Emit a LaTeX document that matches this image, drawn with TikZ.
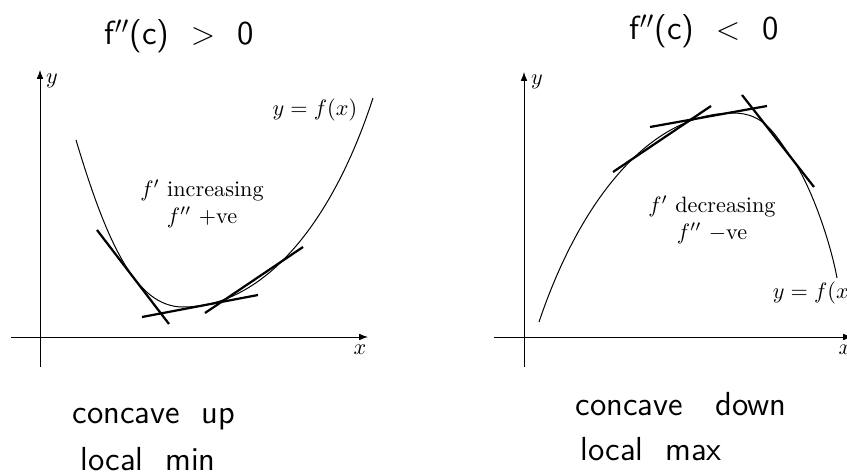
\documentclass[tikz,border=0pt]{standalone}
\usepackage{fontspec}
\usetikzlibrary{arrows.meta,positioning}

\begin{document}
\begin{tikzpicture}[
    x=0.45pt,y=-0.45pt,
    ax/.style={-{Latex[length=4pt,width=3pt]},line width=0.4pt},
    crv/.style={line width=0.45pt},
    tgt/.style={line width=1pt},
    hand/.style={font=\sffamily\fontsize{15}{18}\selectfont,anchor=base west},
    lbl/.style={align=center},
]
\useasboundingbox (0,0) rectangle (847,474);

% left: concave up
\coordinate (lyb) at (40,367);
\coordinate (lyt) at (40,70);
\coordinate (lxl) at (11,337);
\coordinate (lxr) at (368,337);
\draw[ax] (lyb) -- (lyt);
\draw[ax] (lxl) -- (lxr);
\node (ly) at (52,81) {$y$};
\node (lx) at (360,350) {$x$};

\draw[crv] (76,140) .. controls (106,240) and (135,307) .. (183,307)
    .. controls (260,307) and (330,230) .. (373,98);
\node[anchor=east] (lf) at (365,110) {$y=f(x)$};
\node[lbl] (linc) at (202,204) {$f'$ increasing\\$f''$ +ve};

\coordinate (la1) at (97,230);  \coordinate (la2) at (169,324);
\coordinate (lb1) at (142,317); \coordinate (lb2) at (258,295);
\coordinate (lc1) at (205,313); \coordinate (lc2) at (303,247);
\draw[tgt] (la1) -- (la2);
\draw[tgt] (lb1) -- (lb2);
\draw[tgt] (lc1) -- (lc2);

\node[hand] (ltitle) at (97,45) {f$''$(c)\ \ $>$\ \ 0};
\node[hand] (lcc) at (65,423) {concave\ \ up};
\node[hand] (lmin) at (73,470) {local\ \ min};

% right: concave down
\coordinate (ryb) at (524,367);
\coordinate (ryt) at (524,72);
\coordinate (rxl) at (494,337);
\coordinate (rxr) at (852,337);
\draw[ax] (ryb) -- (ryt);
\draw[ax] (rxl) -- (rxr);
\node (ry) at (537,82) {$y$};
\node (rx) at (845,350) {$x$};

\draw[crv] (539,322) .. controls (580,200) and (650,113) .. (733,113)
    .. controls (765,113) and (775,135) .. (791,157)
    .. controls (810,183) and (830,240) .. (837,278);
\node[anchor=west] (rf) at (765,293) {$y=f(x)$};
\node[lbl] (rdec) at (712,220) {$f'$ decreasing\\$f''$ $-$ve};

\coordinate (ra1) at (613,172); \coordinate (ra2) at (711,106);
\coordinate (rb1) at (650,127); \coordinate (rb2) at (767,106);
\coordinate (rc1) at (742,95);  \coordinate (rc2) at (814,187);
\draw[tgt] (ra1) -- (ra2);
\draw[tgt] (rb1) -- (rb2);
\draw[tgt] (rc1) -- (rc2);

\node[hand] (rtitle) at (622,40) {f$''$(c)\ \ $<$\ \ 0};
\node[hand] (rcc) at (568,415) {concave\ \ \ down};
\node[hand] (rmax) at (573,460) {local\ \ max};
\end{tikzpicture}
\end{document}
